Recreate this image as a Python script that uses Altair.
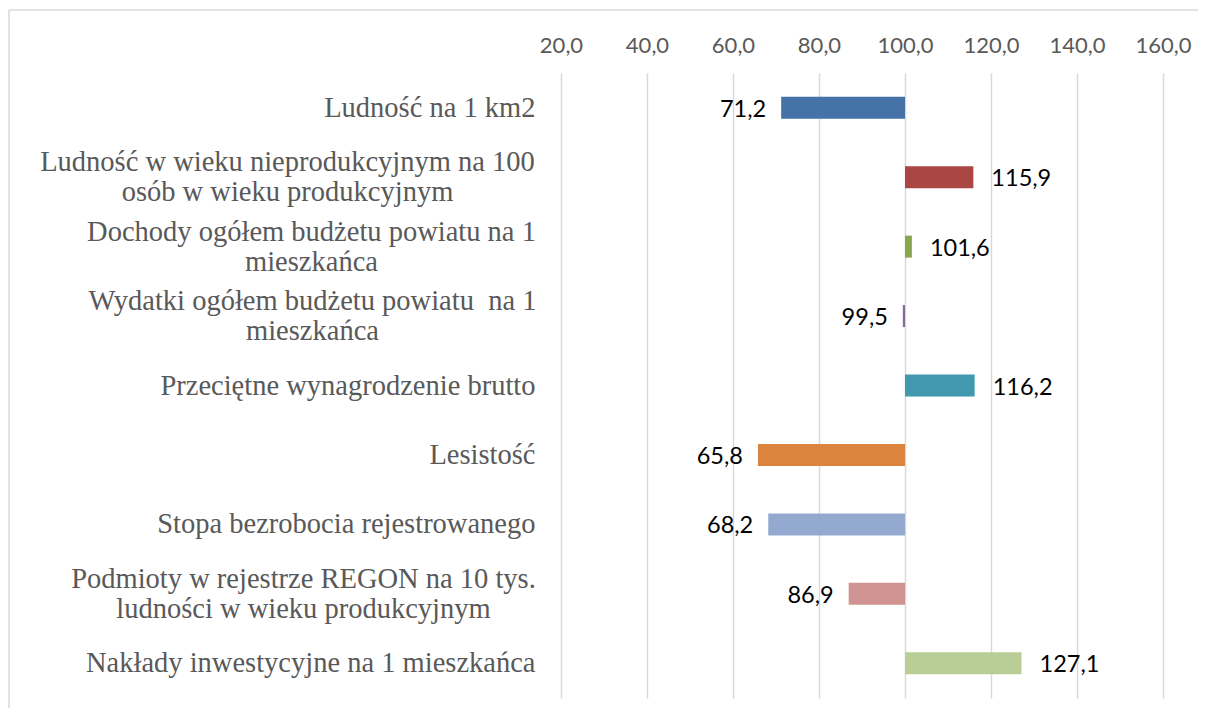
import altair as alt
import pandas as pd

categories = [
    ["Ludność na 1 km2"],
    ["Ludność w wieku nieprodukcyjnym na 100", "osób w wieku produkcyjnym"],
    ["Dochody ogółem budżetu powiatu na 1", "mieszkańca"],
    ["Wydatki ogółem budżetu powiatu \u00a0na 1", "mieszkańca"],
    ["Przeciętne wynagrodzenie brutto\u00a0"],
    ["Lesistość"],
    ["Stopa bezrobocia rejestrowanego"],
    ["Podmioty w rejestrze REGON na 10 tys.", "ludności w wieku produkcyjnym"],
    ["Nakłady inwestycyjne na 1 mieszkańca"],
]
values = [71.2, 115.9, 101.6, 99.5, 116.2, 65.8, 68.2, 86.9, 127.1]
colors = ["#4572A7", "#AA4643", "#89A54E", "#80699B", "#4198AF",
          "#DB843D", "#93A9CF", "#D19392", "#B9CD96"]
x_ticks = [20, 40, 60, 80, 100, 120, 140, 160]
baseline = 100

keys = [f"c{i}" for i in range(len(categories))]
label_map = {k: c for k, c in zip(keys, categories)}

df = pd.DataFrame({
    "cat": keys,
    "value": values,
    "label": [f"{v:.1f}".replace(".", ",") for v in values],
    "side": ["neg" if v < baseline else "pos" for v in values],
})

# half-widths (px) of multi-line label blocks, used to centre their lines
multi_pad = {keys[1]: 274, keys[2]: 250, keys[3]: 249, keys[7]: 258}
gap = 26

label_expr = "{" + ",".join(
    f"'{k}': [{','.join(repr(l) for l in label_map[k])}]" for k in keys
) + "}[datum.value]"

pad_cond = [{"test": f"datum.value === '{k}'", "value": p} for k, p in multi_pad.items()]
align_cond = [{"test": f"datum.value === '{k}'", "value": "center"} for k in multi_pad]
off_cond = [{"test": f"datum.value === '{k}'", "value": -15} for k in multi_pad]

y_enc = alt.Y(
    "cat:N", sort=keys, title=None,
    scale=alt.Scale(paddingInner=0.683, paddingOuter=0.3415),
    axis=alt.Axis(
        labelExpr=label_expr,
        labelFont="Liberation Serif", labelFontSize=28.5, labelColor="#595959",
        labelLineHeight=30, labelLimit=0, ticks=False, domain=False, grid=False,
        labelAlign=alt.ConditionalAxisLabelAlign(condition=align_cond, value="right"),
        labelPadding=alt.ConditionalAxisNumber(condition=pad_cond, value=gap),
        labelOffset=alt.ConditionalAxisNumber(condition=off_cond, value=0),
    ),
)

x_scale = alt.Scale(domain=[20, 160], nice=False, zero=False)

bars = alt.Chart(df).mark_bar().encode(
    y=y_enc,
    x=alt.X("value:Q", scale=x_scale, title=None,
            axis=alt.Axis(orient="top", values=x_ticks,
                          labelExpr="replace(format(datum.value, '.1f'), '.', ',')",
                          labelFont="Lato", labelFontSize=22, labelColor="#595959",
                          labelPadding=16, labelFlush=False, labelOverlap=False,
                          ticks=False, domain=False,
                          grid=True, gridColor="#d9d9d9", gridWidth=1.5)),
    x2=alt.datum(baseline),
    color=alt.Color("cat:N", sort=keys, scale=alt.Scale(domain=keys, range=colors), legend=None),
)

text_pos = alt.Chart(df[df.side == "pos"]).mark_text(
    align="left", baseline="middle", dx=18, dy=2, font="Lato", fontSize=23.5, color="#000000"
).encode(y=alt.Y("cat:N", sort=keys), x=alt.X("value:Q", scale=x_scale), text="label:N")

text_neg = alt.Chart(df[df.side == "neg"]).mark_text(
    align="right", baseline="middle", dx=-15, dy=2, font="Lato", fontSize=23.5, color="#000000"
).encode(y=alt.Y("cat:N", sort=keys), x=alt.X("value:Q", scale=x_scale), text="label:N")

frame_src = pd.DataFrame({"f": [0]})
frame_top = alt.Chart(frame_src).mark_rule(stroke="#d9d9d9", strokeWidth=1.5).encode(
    x=alt.value(-552), x2=alt.value(700), y=alt.value(-63))
frame_left = alt.Chart(frame_src).mark_rule(stroke="#d9d9d9", strokeWidth=1.5).encode(
    x=alt.value(-552), y=alt.value(-63), y2=alt.value(700))

chart = alt.layer(frame_top, frame_left, bars, text_pos, text_neg).properties(
    width=602, height=625,
    autosize=alt.AutoSizeParams(type="none"),
    padding={"left": 553, "top": 65, "right": 35, "bottom": 10},
).configure_view(stroke=None)

chart.save("out.html", embed_options={"renderer": "svg", "actions": False})
